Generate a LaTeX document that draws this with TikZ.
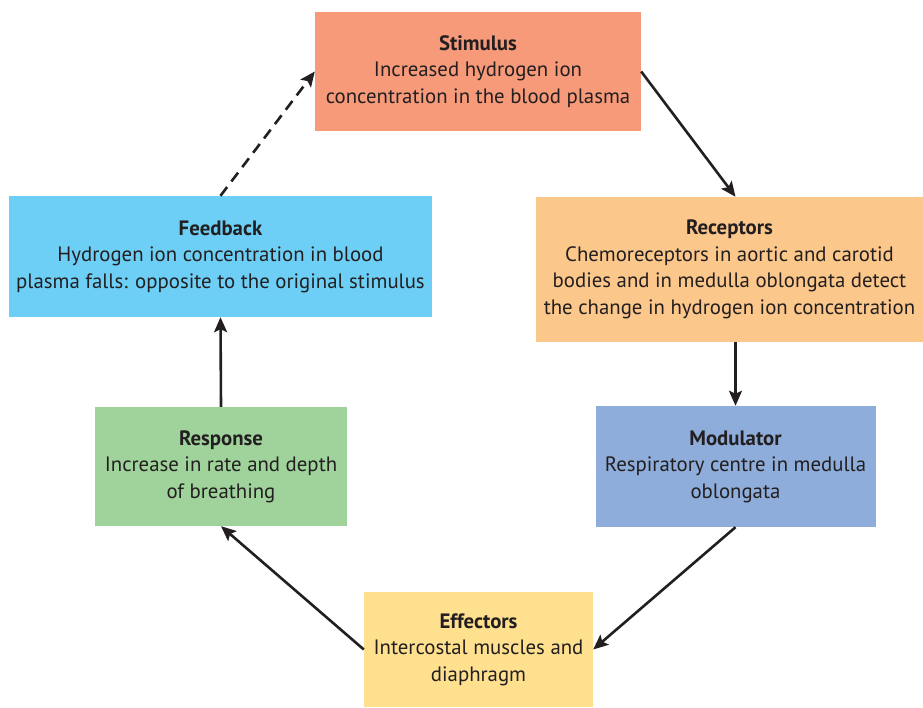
\documentclass[tikz,border=0pt]{standalone}
\usepackage{fontspec}
\setmainfont{PT Sans}
\usetikzlibrary{arrows.meta,calc}
\definecolor{ink}{HTML}{231F20}
\definecolor{cstim}{HTML}{F69A7A}
\definecolor{crec}{HTML}{FBC78A}
\definecolor{cmod}{HTML}{8FADDA}
\definecolor{ceff}{HTML}{FEE08F}
\definecolor{cresp}{HTML}{9FD39B}
\definecolor{cfeed}{HTML}{6DCFF6}
\begin{document}
\begin{tikzpicture}[x=1pt,y=-1pt,
  box/.style={rectangle, inner sep=0pt, align=center, text=ink,
    font=\fontsize{20.8}{26.5}\selectfont},
  arr/.style={draw=ink, line width=2.6pt,
    -{Stealth[length=15pt,width=13pt,inset=3pt]}}]
\useasboundingbox[fill=white] (0,0) rectangle (923,708);
\node[box, fill=cstim, minimum width=326pt, minimum height=119pt] (stim) at (478,71.5)
  {\textbf{Stimulus}\\Increased hydrogen ion\\concentration in the blood plasma};
\node[box, fill=crec, minimum width=387pt, minimum height=145pt] (rec) at (729.5,269.5)
  {\textbf{Receptors}\\Chemoreceptors in aortic and carotid\\bodies and in medulla oblongata detect\\the change in hydrogen ion concentration};
\node[box, fill=cmod, minimum width=280pt, minimum height=121pt] (mod) at (735.5,466.5)
  {\textbf{Modulator}\\Respiratory centre in medulla\\oblongata};
\node[box, fill=ceff, minimum width=229pt, minimum height=115pt] (eff) at (478.5,649.5)
  {\textbf{Effectors}\\Intercostal muscles and\\diaphragm};
\node[box, fill=cresp, minimum width=252pt, minimum height=119pt] (resp) at (221,466.5)
  {\textbf{Response}\\Increase in rate and depth\\of breathing};
\node[box, fill=cfeed, minimum width=423pt, minimum height=121pt] (feed) at (220.5,256.5)
  {\textbf{Feedback}\\Hydrogen ion concentration in blood\\plasma falls: opposite to the original stimulus};
\draw[arr] (stim.east) -- (rec.north -| mod.north);
\draw[arr] (rec.south -| mod.north) -- (mod.north);
\draw[arr] (mod.south) -- (eff.east);
\draw[arr] (eff.west) -- (resp.south);
\draw[arr] (resp.north) -- (feed.south);
\draw[arr, dash pattern=on 11pt off 7pt] (feed.north) -- (stim.west);
\end{tikzpicture}
\end{document}
